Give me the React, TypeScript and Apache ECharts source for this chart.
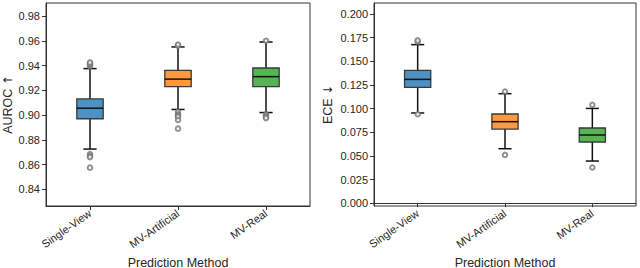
import React, { useEffect, useRef } from "react";
import * as echarts from "echarts";

const categories = ["Single-View", "MV-Artificial", "MV-Real"];
const boxColors = ["#4c92c3", "#ff993e", "#56b356"];

// [low whisker, Q1, median, Q3, high whisker]
const aurocBoxes = [
  [0.8725, 0.897, 0.9055, 0.913, 0.9375],
  [0.9045, 0.923, 0.929, 0.936, 0.955],
  [0.902, 0.923, 0.931, 0.938, 0.959],
];
const aurocOutliers = [
  [0, 0.9395], [0, 0.9405], [0, 0.9415], [0, 0.9425], [0, 0.8685], [0, 0.867], [0, 0.866], [0, 0.8575],
  [1, 0.956], [1, 0.957], [1, 0.9025], [1, 0.9005], [1, 0.8995], [1, 0.8985], [1, 0.896], [1, 0.889],
  [2, 0.96], [2, 0.9005], [2, 0.8995], [2, 0.8985], [2, 0.8975],
];
const eceBoxes = [
  [0.0953, 0.1223, 0.1308, 0.1403, 0.1675],
  [0.0575, 0.0783, 0.0861, 0.0942, 0.1157],
  [0.0445, 0.0646, 0.072, 0.0794, 0.1001],
];
const eceOutliers = [
  [0, 0.1705], [0, 0.172], [0, 0.094],
  [1, 0.118], [1, 0.051],
  [2, 0.104], [2, 0.0377],
];
const aurocTicks = [0.84, 0.86, 0.88, 0.9, 0.92, 0.94, 0.96, 0.98];
const eceTicks = [0, 0.025, 0.05, 0.075, 0.1, 0.125, 0.15, 0.175, 0.2];

const FONT = "Liberation Sans, Arial, sans-serif";
const TEXT = "#262626";

function renderBox(params: any, api: any) {
  const idx = api.value(0);
  const low = api.coord([idx, api.value(1)]);
  const q1 = api.coord([idx, api.value(2)]);
  const med = api.coord([idx, api.value(3)]);
  const q3 = api.coord([idx, api.value(4)]);
  const high = api.coord([idx, api.value(5)]);
  const bw = api.size([1, 0])[0] * 0.3;
  const cw = bw * 0.5;
  const x = low[0];
  const color = boxColors[idx];
  const lineStyle = { stroke: "#111", lineWidth: 1.5 };
  return {
    type: "group",
    children: [
      { type: "line", shape: { x1: x, y1: q3[1], x2: x, y2: high[1] }, style: lineStyle },
      { type: "line", shape: { x1: x, y1: q1[1], x2: x, y2: low[1] }, style: lineStyle },
      { type: "line", shape: { x1: x - cw / 2, y1: high[1], x2: x + cw / 2, y2: high[1] }, style: lineStyle },
      { type: "line", shape: { x1: x - cw / 2, y1: low[1], x2: x + cw / 2, y2: low[1] }, style: lineStyle },
      {
        type: "rect",
        shape: { x: x - bw / 2, y: q3[1], width: bw, height: q1[1] - q3[1] },
        style: { fill: color, stroke: "#3a3a3a", lineWidth: 1.3 },
      },
      { type: "line", shape: { x1: x - bw / 2, y1: med[1], x2: x + bw / 2, y2: med[1] }, style: { stroke: "#111", lineWidth: 1.5 } },
    ],
  };
}

function xAxis(gridIndex: number) {
  return {
    type: "category",
    gridIndex,
    data: categories,
    boundaryGap: true,
    name: "Prediction Method",
    nameLocation: "middle",
    nameGap: 46,
    nameTextStyle: { fontFamily: FONT, fontSize: 12.5, color: TEXT },
    axisLine: { show: true, lineStyle: { color: "#333", width: 1 } },
    axisTick: { show: true, alignWithLabel: true, length: 4, lineStyle: { color: "#333" } },
    axisLabel: { rotate: 35, fontFamily: FONT, fontSize: 11, color: TEXT, margin: 6 },
    splitLine: { show: false },
  };
}

function yAxis(gridIndex: number, name: string, min: number, max: number, ticks: number[], digits: number, nameGap: number) {
  return {
    type: "value",
    gridIndex,
    min,
    max,
    name,
    nameLocation: "middle",
    nameGap,
    nameTextStyle: {
      fontFamily: FONT,
      fontSize: 12.5,
      color: TEXT,
      rich: { a: { fontFamily: "DejaVu Sans", fontSize: 12, color: TEXT } },
    },
    axisLine: { show: true, lineStyle: { color: "#333", width: 1 } },
    axisTick: { show: true, length: 4, customValues: ticks, lineStyle: { color: "#333" } },
    axisLabel: {
      fontFamily: FONT,
      fontSize: 11,
      color: TEXT,
      margin: 6,
      customValues: ticks,
      formatter: (v: number) => v.toFixed(digits),
    },
    splitLine: { show: false },
  };
}

function boxSeries(i: number, boxes: number[][]) {
  return {
    type: "custom",
    xAxisIndex: i,
    yAxisIndex: i,
    renderItem: renderBox,
    data: boxes.map((b, k) => [k, ...b]),
    encode: { x: 0, y: [1, 2, 3, 4, 5] },
    z: 2,
  };
}

function outlierSeries(i: number, pts: number[][]) {
  return {
    type: "scatter",
    xAxisIndex: i,
    yAxisIndex: i,
    data: pts,
    symbol: "emptyCircle",
    symbolSize: 4.5,
    itemStyle: { color: "#777", borderColor: "#777", borderWidth: 0.9 },
    z: 3,
  };
}

export default function App() {
  const ref = useRef<HTMLDivElement>(null);
  useEffect(() => {
    if (!ref.current) return;
    const chart = echarts.init(ref.current, null, { renderer: "svg" });
    chart.setOption({
      animation: false,
      backgroundColor: "#fff",
      grid: [
        { left: 46, right: 330, top: 3, bottom: 62, show: true, borderColor: "#333", borderWidth: 1, outerBoundsMode: "none", containLabel: false },
        { left: 374, right: 4, top: 3, bottom: 62, show: true, borderColor: "#333", borderWidth: 1, outerBoundsMode: "none", containLabel: false },
      ],
      xAxis: [xAxis(0), xAxis(1)],
      yAxis: [
        yAxis(0, "AUROC {a|↑}", 0.8265, 0.9905, aurocTicks, 2, 31),
        yAxis(1, "ECE {a|↓}", -0.003, 0.2115, eceTicks, 3, 40),
      ],
      series: [
        boxSeries(0, aurocBoxes),
        outlierSeries(0, aurocOutliers),
        boxSeries(1, eceBoxes),
        outlierSeries(1, eceOutliers),
      ],
    });
    return () => chart.dispose();
  }, []);
  return <div ref={ref} style={{ width: 640, height: 268, position: "absolute", left: 0, top: 0 }} />;
}
